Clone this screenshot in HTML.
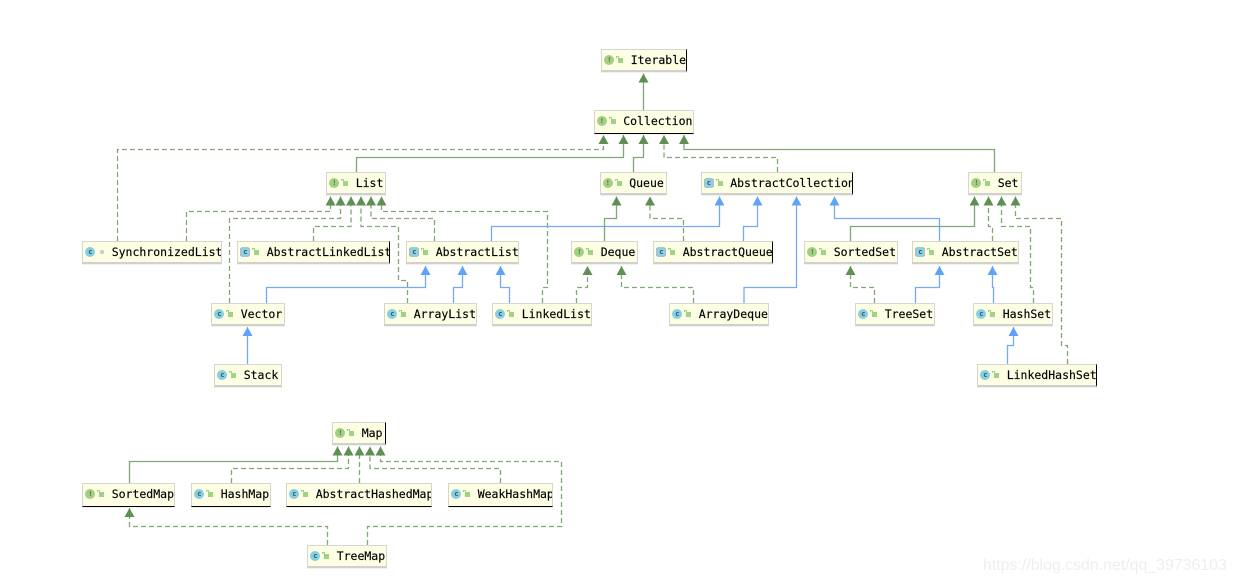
<!DOCTYPE html>
<html>
<head>
<meta charset="utf-8">
<title>Collection and Map class hierarchy</title>
<style>
html,body{margin:0;padding:0;background:#fff}
body{width:1236px;height:585px;overflow:hidden;position:relative;font-family:"DejaVu Sans Mono","Liberation Mono",monospace}
svg.lines{position:absolute;left:0;top:0}
path{fill:none;stroke-width:1.3}
.gs{stroke:#7fa876;marker-end:url(#ga)}
.gd{stroke:#7fa876;stroke-dasharray:5 3;marker-end:url(#ga)}
.bs{stroke:#74abf0;marker-end:url(#ba)}
.n{position:absolute;box-sizing:border-box;height:23px;background:#fefee4;border:1px solid #d6d6d0;border-bottom:2px solid #d0d0cc;overflow:hidden;box-shadow:0 1px 0 #f0f0f0}
.n.r{border-right:1.5px solid #000}
.n.b{border-bottom:1.5px solid #000}
.n .t{position:absolute;left:28.7px;top:0;line-height:20px;font-size:11.5px;color:#000;white-space:pre;-webkit-text-stroke:.15px #000}
.n .i{position:absolute;left:2.4px;top:5px;width:10px;height:10px;border-radius:50%;background:#a2d082;color:#4f6a40;font-size:7px;line-height:10px;text-align:center;font-weight:bold}
.n .c{background:#86cfe0;color:#33566a}
.n .a{left:3.4px;width:8px;border-radius:1px;background:#8ed0e2;color:#33566a;box-shadow:-2px 0 0 -1px #bbb,2px 0 0 -1px #bbb}
.n .l{position:absolute;left:16px;top:8px;width:5px;height:5px;background:#9fd484}
.n .l:before{content:"";position:absolute;left:-2px;top:-2px;width:3px;height:2px;border:1px solid #9fd484;border-bottom:0;box-sizing:border-box}
.n .d{position:absolute;left:17px;top:8px;width:4px;height:4px;border-radius:50%;background:#c8c8c8}
.wm{position:absolute;left:983px;top:556px;font-family:"Liberation Sans",sans-serif;font-size:15.9px;line-height:20px;color:#eeeeee;white-space:pre}
</style>
</head>
<body>
<svg class="lines" width="1236" height="585" viewBox="0 0 1236 585">
<defs>
<marker id="ga" markerUnits="userSpaceOnUse" viewBox="0 0 9 10" markerWidth="9" markerHeight="10" refX="9" refY="5" orient="auto"><polygon points="0,0 9,5 0,10" fill="#5f8f52"/></marker>
<marker id="ba" markerUnits="userSpaceOnUse" viewBox="0 0 9 10" markerWidth="9" markerHeight="10" refX="9" refY="5" orient="auto"><polygon points="0,0 9,5 0,10" fill="#5ea3f8"/></marker>
</defs>
<!-- Iterable / Collection -->
<path class="gs" d="M643.5 111V73.5"/>
<path class="gd" d="M117.5 241V149.5H603.5V135"/>
<path class="gs" d="M356.5 172V157.5H623.5V135"/>
<path class="gs" d="M633.5 172V157.5H643.5V135"/>
<path class="gd" d="M777.5 172V157.5H664V135"/>
<path class="gs" d="M994.5 172V149.5H684V135"/>
<!-- List -->
<path class="gd" d="M186.5 241V211.5H330.5V196.5"/>
<path class="gd" d="M229.5 303V218.5H340.5V196.5"/>
<path class="gd" d="M313.5 241V226.5H351V196.5"/>
<path class="gd" d="M407.5 303V280.5H398.5V226.5H361V196.5"/>
<path class="gd" d="M434.5 241V218.5H371V196.5"/>
<path class="gd" d="M542.5 303V287.5H547.5V211.5H381.5V196.5"/>
<!-- AbstractCollection -->
<path class="bs" d="M491.5 241V226.5H719.5V196.5"/>
<path class="bs" d="M743.5 241V226.5H757.5V196.5"/>
<path class="bs" d="M744 303V287.5H796.5V196.5"/>
<path class="bs" d="M939.5 241V218.5H834.5V196.5"/>
<!-- Queue -->
<path class="gs" d="M604.5 241V218.5H616.5V196.5"/>
<path class="gd" d="M683.5 241V218.5H650V196.5"/>
<!-- Set -->
<path class="gs" d="M850.5 241V226.5H974.5V196.5"/>
<path class="gd" d="M992.5 241V226.5H988.5V196.5"/>
<path class="gd" d="M1033.5 303V287.5H1030.5V226.5H1001.5V196.5"/>
<path class="gd" d="M1067.5 364V345.5H1061.5V218.5H1015.5V196.5"/>
<!-- AbstractList -->
<path class="bs" d="M266.5 303V287.5H425.5V266"/>
<path class="bs" d="M453.5 303V287.5H462.5V266"/>
<path class="bs" d="M509.5 303V287.5H500.5V266"/>
<!-- Deque -->
<path class="gd" d="M576.5 303V287.5H587.5V266"/>
<path class="gd" d="M693.5 303V287.5H621.5V266"/>
<!-- SortedSet / AbstractSet -->
<path class="gd" d="M874.5 303V287.5H850.5V266"/>
<path class="bs" d="M915.5 303V287.5H939.5V266"/>
<path class="bs" d="M993.5 303V287.5H992.5V266"/>
<!-- Stack / LinkedHashSet -->
<path class="bs" d="M247.5 364V327"/>
<path class="bs" d="M1007.5 364V345.5H1013.5V327"/>
<!-- Map -->
<path class="gs" d="M129.5 483V461.5H337.5V446.5"/>
<path class="gd" d="M231.5 483V468.5H348.5V446.5"/>
<path class="gd" d="M359.5 483V446.5"/>
<path class="gd" d="M500.5 483V468.5H370V446.5"/>
<path class="gd" d="M367.5 545V526.5H561.5V461.5H380.5V446.5"/>
<path class="gd" d="M327.5 545V526.5H129.5V508"/>
</svg>

<div class="n r" style="left:601px;top:49px;width:86px"><span class="i">!</span><span class="l"></span><span class="t">Iterable</span></div>
<div class="n b" style="left:593.5px;top:110px;width:100px;height:24px"><span class="i">!</span><span class="l"></span><span class="t">Collection</span></div>

<div class="n" style="left:326px;top:172px;width:60px"><span class="i">!</span><span class="l"></span><span class="t">List</span></div>
<div class="n" style="left:599.5px;top:172px;width:67px"><span class="i">!</span><span class="l"></span><span class="t">Queue</span></div>
<div class="n r" style="left:700.5px;top:172px;width:152.5px"><span class="i a">c</span><span class="l"></span><span class="t">AbstractCollection</span></div>
<div class="n" style="left:968px;top:172px;width:54px"><span class="i">!</span><span class="l"></span><span class="t">Set</span></div>

<div class="n" style="left:82px;top:241px;width:140px"><span class="i c">c</span><span class="d"></span><span class="t">SynchronizedList</span></div>
<div class="n r" style="left:237px;top:241px;width:153px"><span class="i a">c</span><span class="l"></span><span class="t">AbstractLinkedList</span></div>
<div class="n" style="left:406px;top:241px;width:113px"><span class="i a">c</span><span class="l"></span><span class="t">AbstractList</span></div>
<div class="n" style="left:571px;top:241px;width:67px"><span class="i">!</span><span class="l"></span><span class="t">Deque</span></div>
<div class="n r" style="left:653px;top:241px;width:120px"><span class="i a">c</span><span class="l"></span><span class="t">AbstractQueue</span></div>
<div class="n" style="left:804px;top:241px;width:94px"><span class="i">!</span><span class="l"></span><span class="t">SortedSet</span></div>
<div class="n" style="left:912px;top:241px;width:107px"><span class="i a">c</span><span class="l"></span><span class="t">AbstractSet</span></div>

<div class="n" style="left:211px;top:303px;width:74px"><span class="i c">c</span><span class="l"></span><span class="t">Vector</span></div>
<div class="n" style="left:384px;top:303px;width:93px"><span class="i c">c</span><span class="l"></span><span class="t">ArrayList</span></div>
<div class="n" style="left:492px;top:303px;width:100px"><span class="i c">c</span><span class="l"></span><span class="t">LinkedList</span></div>
<div class="n" style="left:669px;top:303px;width:100px"><span class="i c">c</span><span class="l"></span><span class="t">ArrayDeque</span></div>
<div class="n" style="left:855px;top:303px;width:80px"><span class="i c">c</span><span class="l"></span><span class="t">TreeSet</span></div>
<div class="n" style="left:973px;top:303px;width:80px"><span class="i c">c</span><span class="l"></span><span class="t">HashSet</span></div>

<div class="n" style="left:214px;top:364px;width:68px"><span class="i c">c</span><span class="l"></span><span class="t">Stack</span></div>
<div class="n r" style="left:977px;top:364px;width:120px"><span class="i c">c</span><span class="l"></span><span class="t">LinkedHashSet</span></div>

<div class="n r" style="left:332px;top:422px;width:54px"><span class="i">!</span><span class="l"></span><span class="t">Map</span></div>
<div class="n b" style="left:82px;top:483px;width:93px;height:24px"><span class="i">!</span><span class="l"></span><span class="t">SortedMap</span></div>
<div class="n b" style="left:191px;top:483px;width:80px;height:24px"><span class="i c">c</span><span class="l"></span><span class="t">HashMap</span></div>
<div class="n b" style="left:286px;top:483px;width:146px;height:24px"><span class="i c">c</span><span class="l"></span><span class="t">AbstractHashedMap</span></div>
<div class="n b" style="left:448px;top:483px;width:105px;height:24px"><span class="i c">c</span><span class="l"></span><span class="t">WeakHashMap</span></div>
<div class="n" style="left:307px;top:545px;width:80px"><span class="i c">c</span><span class="l"></span><span class="t">TreeMap</span></div>

<div class="wm">https://blog.csdn.net/qq_39736103</div>
</body>
</html>
